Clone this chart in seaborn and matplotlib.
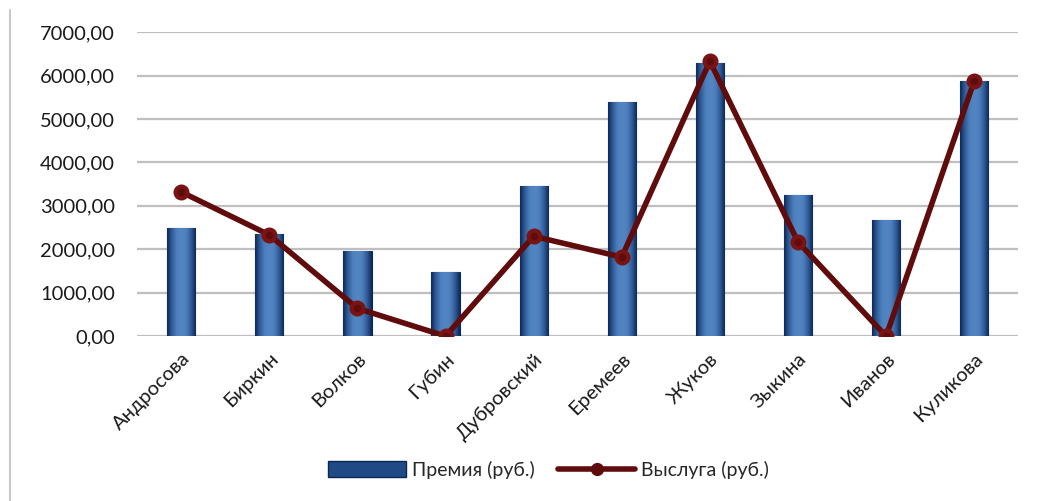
import numpy as np
import pandas as pd
import matplotlib
matplotlib.use("Agg")
import matplotlib.pyplot as plt
import seaborn as sns
from matplotlib.colors import LinearSegmentedColormap
from matplotlib.lines import Line2D
from matplotlib.patches import Patch

names = ["Андросова", "Биркин", "Волков", "Губин", "Дубровский",
         "Еремеев", "Жуков", "Зыкина", "Иванов", "Куликова"]
premia = [2480, 2350, 1960, 1470, 3450, 5390, 6290, 3250, 2670, 5880]
vysluga = [3320, 2330, 640, 0, 2300, 1820, 6330, 2170, 0, 5870]
yticks = [0, 1000, 2000, 3000, 4000, 5000, 6000, 7000]
ytick_labels = ["0,00", "1000,00", "2000,00", "3000,00",
                "4000,00", "5000,00", "6000,00", "7000,00"]

df = pd.DataFrame({"name": names, "premia": premia, "vysluga": vysluga})

sns.set_style("white")
plt.rcParams["font.family"] = ["Lato", "DejaVu Sans"]

fig = plt.figure(figsize=(10.39, 5.01), dpi=100)
ax = fig.add_axes([0.132, 0.329, 0.848, 0.607])

sns.barplot(data=df, x="name", y="premia", color="#4f81bd", width=0.32,
            ax=ax, zorder=2)

# gradient fill for the bars (dark edges, lighter middle)
cmap = LinearSegmentedColormap.from_list(
    "bar", ["#0c2756", "#2f5c97", "#4e7fbd", "#5286c2", "#4e7fbd", "#2f5c97", "#0c2756"])
grad = np.linspace(0, 1, 256).reshape(1, -1)
for p in ax.patches:
    x0, y0 = p.get_x(), p.get_y()
    w, h = p.get_width(), p.get_height()
    im = ax.imshow(grad, cmap=cmap, aspect="auto", extent=[x0, x0 + w, y0, y0 + h],
                   zorder=2.5, interpolation="bicubic")
    im.set_clip_path(p)
    p.set_facecolor("none")
    p.set_edgecolor("#0c2756")
    p.set_linewidth(0.8)

sns.pointplot(data=df, x="name", y="vysluga", color="#600c0c", markers="o",
              linestyles="-", errorbar=None, ax=ax, linewidth=4,
              markersize=8.5, markeredgecolor="#7a1414", zorder=4)

ax.set_xlim(-0.5, len(names) - 0.5)
ax.set_ylim(0, 7000)
ax.set_yticks(yticks)
ax.set_yticklabels(ytick_labels, fontsize=14.5, color="#1a1a1a")
ax.set_xticks(range(len(names)))
ax.set_xticklabels(names, rotation=45, ha="right", rotation_mode="anchor",
                   fontsize=14.5, color="#1a1a1a")
ax.tick_params(axis="y", length=0, pad=16)
ax.tick_params(axis="x", length=0, pad=10)
ax.yaxis.grid(True, color="#bfbfbf", linewidth=1.6, zorder=0)
ax.set_axisbelow(True)
for s in ax.spines.values():
    s.set_visible(False)
ax.set_xlabel("")
ax.set_ylabel("")

fig.add_artist(Line2D([0.0095, 0.0095], [0.0, 0.98], color="#c8c8c8",
                      linewidth=1.5, transform=fig.transFigure))

handles = [Patch(facecolor="#1f4a85", edgecolor="#0c2756", label="Премия (руб.)"),
           Line2D([0], [0], color="#600c0c", linewidth=4, marker="o",
                  markersize=8.5, label="Выслуга (руб.)")]
fig.legend(handles=handles, loc="center", bbox_to_anchor=(0.528, 0.062), ncol=2,
           frameon=False, fontsize=14, handlelength=4.0, handleheight=0.9,
           columnspacing=1.2, handletextpad=0.3)

fig.savefig("out.png", dpi=100)
